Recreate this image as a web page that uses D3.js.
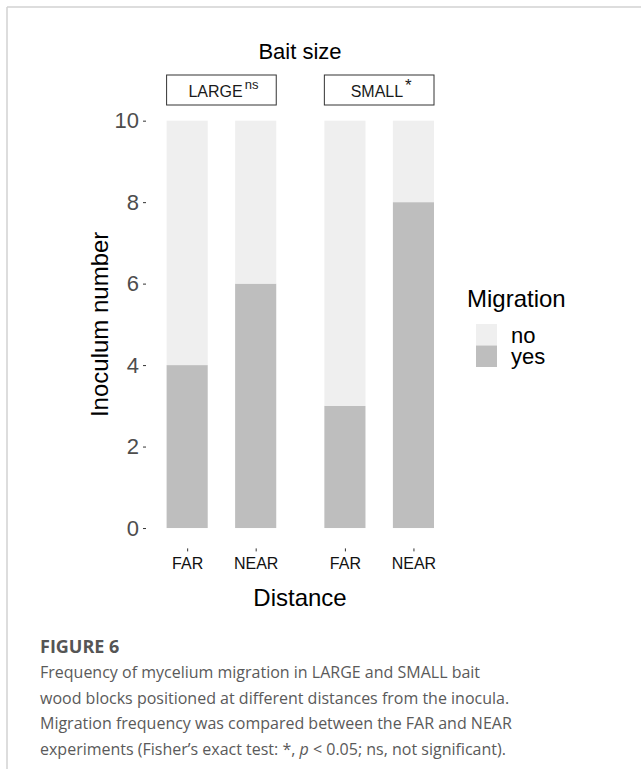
<!DOCTYPE html>
<html>
<head>
<meta charset="utf-8">
<script src="https://cdn.jsdelivr.net/npm/d3@7"></script>
<style>
  html, body { margin: 0; padding: 0; background: #fff; }
  svg { display: block; }
</style>
</head>
<body>
<svg id="fig" width="641" height="769"></svg>
<script>
// Facets (bait size), x categories (distance) and stacked counts
const baitSizes = ["LARGE", "SMALL"];
const significance = ["ns", "*"];
const distances = ["FAR", "NEAR"];
const migrationLevels = ["no", "yes"];
const yesCounts = [[4, 6], [3, 8]];   // per bait size, per distance
const noCounts  = [[6, 4], [7, 2]];
const yTicks = [0, 2, 4, 6, 8, 10];
const fillColors = ["#efefef", "#bebebe"];

const captionTitle = "FIGURE 6";
const captionLines = [
  "Frequency of mycelium migration in LARGE and SMALL bait",
  "wood blocks positioned at different distances from the inocula.",
  "Migration frequency was compared between the FAR and NEAR",
  "experiments (Fisher’s exact test: *, p < 0.05; ns, not significant)."
];

const svg = d3.select("#fig");
const chartFont = "'Liberation Sans', Arial, Helvetica, sans-serif";

// Page frame
svg.append("line").attr("x1", 7).attr("y1", 7).attr("x2", 641).attr("y2", 7)
  .attr("stroke", "#d2d2d2").attr("stroke-width", 1.5);
svg.append("line").attr("x1", 7).attr("y1", 7).attr("x2", 7).attr("y2", 769)
  .attr("stroke", "#d2d2d2").attr("stroke-width", 1.5);

// Scales
const y = d3.scaleLinear().domain([-0.5, 10.5]).range([548.4, 100.3]);
const facetX = d3.scaleBand().domain(baitSizes).range([166.6, 434]).paddingInner(0.305);
const innerX = d3.scaleBand().domain(distances).range([0, facetX.bandwidth()]).paddingInner(0.4);

// Stacked data
const rows = [];
baitSizes.forEach((b, i) => {
  distances.forEach((d, j) => {
    rows.push({ bait: b, distance: d, yes: yesCounts[i][j], no: noCounts[i][j] });
  });
});
const stack = d3.stack().keys(["yes", "no"]);
const series = stack(rows);
const color = d3.scaleOrdinal().domain(migrationLevels).range(fillColors);

const g = svg.append("g");
series.forEach(s => {
  g.selectAll(null).data(s).join("rect")
    .attr("x", d => facetX(d.data.bait) + innerX(d.data.distance))
    .attr("width", innerX.bandwidth())
    .attr("y", d => y(d[1]))
    .attr("height", d => y(d[0]) - y(d[1]))
    .attr("fill", color(s.key));
});

// Y axis
const yAxis = svg.append("g").attr("transform", "translate(146,0)")
  .call(d3.axisLeft(y).tickValues(yTicks).tickSize(3).tickPadding(4));
yAxis.select(".domain").remove();
yAxis.selectAll(".tick line").attr("stroke", "#333").attr("stroke-width", 1);
yAxis.selectAll(".tick text").attr("fill", "#4d4d4d")
  .style("font-family", chartFont).style("font-size", "22px");

// X axes, one per facet
baitSizes.forEach(b => {
  const ax = svg.append("g").attr("transform", `translate(${facetX(b)},548.4)`)
    .call(d3.axisBottom(d3.scalePoint().domain(distances)
      .range([innerX(distances[0]) + innerX.bandwidth() / 2, innerX(distances[1]) + innerX.bandwidth() / 2]))
      .tickSize(3).tickPadding(6));
  ax.select(".domain").remove();
  ax.selectAll(".tick line").attr("stroke", "#333").attr("stroke-width", 1);
  ax.selectAll(".tick text").attr("fill", "#111")
    .style("font-family", chartFont).style("font-size", "16px");
});

// Facet strips
baitSizes.forEach((b, i) => {
  svg.append("rect")
    .attr("x", facetX(b)).attr("y", 75)
    .attr("width", facetX.bandwidth()).attr("height", 30)
    .attr("fill", "#fff").attr("stroke", "#333").attr("stroke-width", 1);
  const t = svg.append("text")
    .attr("x", facetX(b) + facetX.bandwidth() / 2 + 2).attr("y", 97)
    .attr("text-anchor", "middle")
    .style("font-family", chartFont).style("font-size", "16px").attr("fill", "#1a1a1a");
  t.append("tspan").text(b);
  t.append("tspan").attr("dx", 2).attr("dy", significance[i] === "*" ? -6 : -8)
    .style("font-size", significance[i] === "*" ? "17px" : "13px").text(significance[i]);
});

// Titles
svg.append("text").attr("x", 300).attr("y", 59).attr("text-anchor", "middle")
  .style("font-family", chartFont).style("font-size", "22px").text("Bait size");
svg.append("text").attr("x", 300).attr("y", 606).attr("text-anchor", "middle")
  .style("font-family", chartFont).style("font-size", "24px").text("Distance");
svg.append("text")
  .attr("transform", `translate(108,${(y(-0.5) + y(10.5)) / 2}) rotate(-90)`)
  .attr("text-anchor", "middle")
  .style("font-family", chartFont).style("font-size", "24px").text("Inoculum number");

// Legend
const legend = svg.append("g").attr("transform", "translate(467,0)");
legend.append("text").attr("x", 0).attr("y", 307)
  .style("font-family", chartFont).style("font-size", "24px").text("Migration");
migrationLevels.forEach((lvl, i) => {
  legend.append("rect").attr("x", 9).attr("y", 324 + i * 21.5)
    .attr("width", 21).attr("height", 21.5).attr("fill", color(lvl));
  legend.append("text").attr("x", 44).attr("y", 343 + i * 20.5)
    .style("font-family", chartFont).style("font-size", "22px").text(lvl);
});

// Caption
const capFont = "'Open Sans', 'Noto Sans', sans-serif";
svg.append("text").attr("x", 40).attr("y", 653)
  .style("font-family", capFont).style("font-size", "18px").style("font-weight", 700)
  .attr("fill", "#555").text(captionTitle);
const capG = svg.append("g");
captionLines.forEach((line, i) => {
  const t = capG.append("text").attr("x", 40).attr("y", 678 + i * 25.5)
    .style("font-family", capFont).style("font-size", "16px").attr("fill", "#5a5a5a");
  if (line.includes(" p < ")) {
    const [a, b] = line.split(" p ");
    t.append("tspan").text(a + " ");
    t.append("tspan").style("font-style", "italic").text("p");
    t.append("tspan").text(" " + b);
  } else {
    t.text(line);
  }
});
</script>
</body>
</html>
